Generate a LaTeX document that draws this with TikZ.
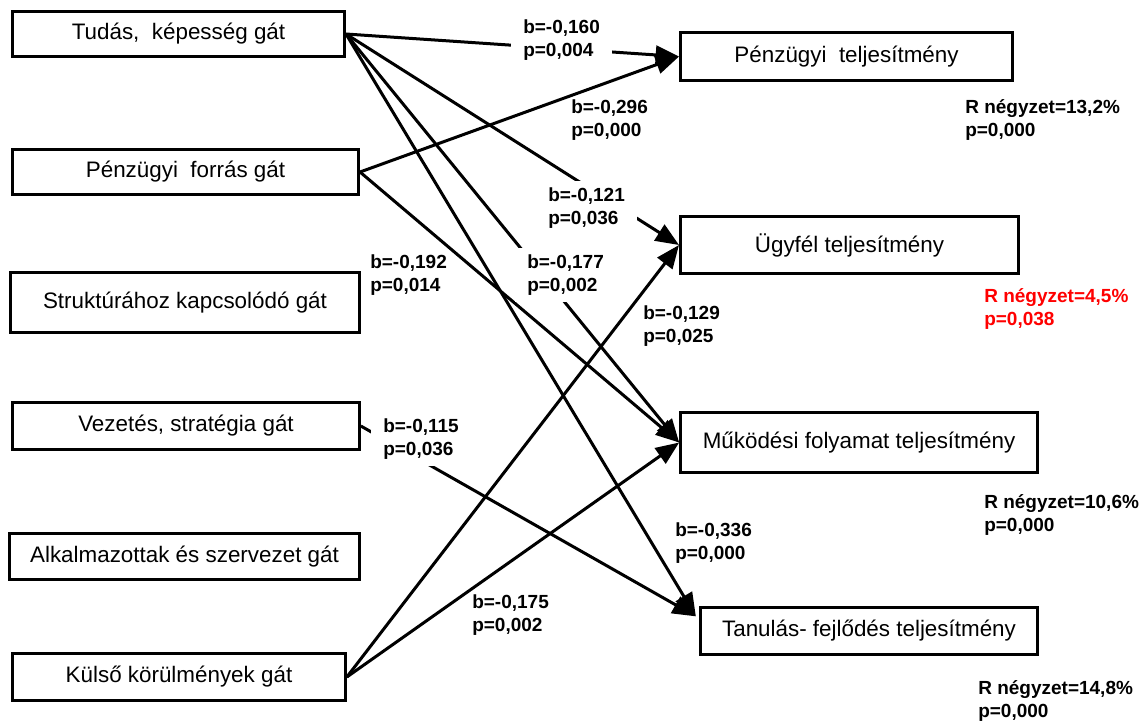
\documentclass[tikz,border=0pt]{standalone}
\usepackage{fontspec}
\setmainfont{Liberation Sans}
\usetikzlibrary{arrows.meta}
\begin{document}
\begin{tikzpicture}[x=0.75pt,y=-0.75pt,
  gbox/.style={draw=black, line width=2.25pt, inner sep=0pt,
    font=\fontsize{16.8}{20}\selectfont},
  link/.style={line width=2.25pt, -{Triangle[length=17.5pt,width=14pt]}},
  lab/.style={anchor=west, align=left, inner xsep=9pt, inner ysep=5pt,
    font=\fontsize{14.25}{17.25}\selectfont\bfseries},
  gap/.style={lab, fill=white},
]
\useasboundingbox (0,0) rectangle (1148,722);

% barriers (left column)
\node[gbox, minimum width=249pt, minimum height=34pt] (tud) at (178.5,34) {Tudás,~~képesség gát};
\node[gbox, minimum width=259.5pt, minimum height=34pt] (pf) at (185.5,172) {Pénzügyi~~forrás gát};
\node[gbox, minimum width=261.5pt, minimum height=45pt] (str) at (185,302.5) {Struktúrához kapcsolódó gát};
\node[gbox, minimum width=260pt, minimum height=35pt] (vez) at (186,426) {Vezetés, stratégia gát};
\node[gbox, minimum width=262.5pt, minimum height=34.5pt] (alk) at (184.5,556.5) {Alkalmazottak és szervezet gát};
\node[gbox, minimum width=249.5pt, minimum height=35pt] (kul) at (179,677) {Külső körülmények gát};

% performance dimensions (right column)
\node[gbox, minimum width=249pt, minimum height=36pt] (pt) at (846.5,56.5) {Pénzügyi~~teljesítmény};
\node[gbox, minimum width=253.5pt, minimum height=42.5pt] (ugy) at (849.5,245) {Ügyfél teljesítmény};
\node[gbox, minimum width=267.5pt, minimum height=45pt] (muk) at (859,442.5) {Működési folyamat teljesítmény};
\node[gbox, minimum width=252.5pt, minimum height=35pt] (tan) at (869,631) {Tanulás- fejlődés teljesítmény};

% both arrows into the learning box meet near its upper left corner
\coordinate (tanin) at ([xshift=-2.5pt,yshift=11pt]tan.west);

% effects
\draw[link] (tud.east) -- (pt.west);
\draw[link] (pf.east) -- (pt.west);
\draw[link] (tud.east) -- (ugy.west);
\draw[link] (tud.east) -- (muk.west);
\draw[link] (tud.east) -- (tanin);
\draw[link] (pf.east) -- (muk.west);
\draw[link] (vez.east) -- (tanin);
\draw[link] (kul.east) -- (ugy.west);
\draw[link] (kul.east) -- (muk.west);

% coefficients
\node[gap] (l160) at (511,40.5) {b=-0,160\\p=0,004};
\node[lab] (l296) at (559,120.5) {b=-0,296\\p=0,000};
\node[gap] (l121) at (536,208.5) {b=-0,121\\p=0,036};
\node[lab] (l192) at (358,275) {b=-0,192\\p=0,014};
\node[gap] (l177) at (515,275) {b=-0,177\\p=0,002};
\node[lab] (l129) at (631,326) {b=-0,129\\p=0,025};
\node[gap] (l115) at (371,439) {b=-0,115\\p=0,036};
\node[lab] (l336) at (663,543) {b=-0,336\\p=0,000};
\node[lab] (l175) at (460,615) {b=-0,175\\p=0,002};

% explained variance
\node[lab] (r1) at (953,120) {R négyzet=13,2\%\\p=0,000};
\node[lab, text=red] (r2) at (972,308.5) {R négyzet=4,5\%\\p=0,038};
\node[lab] (r3) at (972,515) {R négyzet=10,6\%\\p=0,000};
\node[lab] (r4) at (966,701) {R négyzet=14,8\%\\p=0,000};
\end{tikzpicture}
\end{document}
